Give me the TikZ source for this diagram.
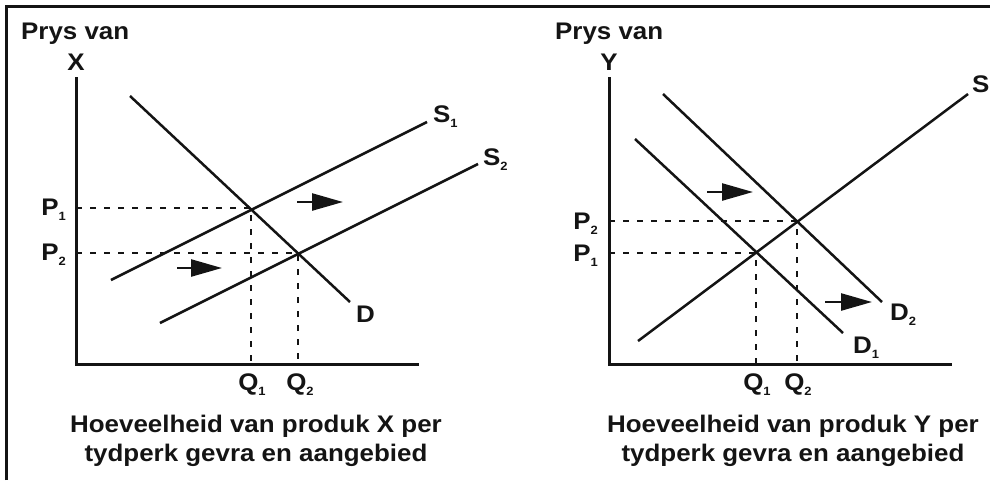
\documentclass[tikz,border=0pt]{standalone}
\usepackage{fontspec}
\setmainfont{Liberation Sans}[FakeStretch=1.08]
\usetikzlibrary{arrows.meta,positioning}
\definecolor{ink}{RGB}{20,20,20}
\tikzset{
  axis line/.style={line width=3pt,draw=ink},
  curve/.style={line width=2.5pt,draw=ink},
  guide/.style={line width=2.5pt,draw=ink,dash pattern=on 6pt off 8pt},
  shift arrow/.style={line width=2.5pt,draw=ink,-{Triangle[length=31pt,width=17pt]}},
  tag/.style={font=\fontsize{24}{29}\selectfont\bfseries,text=ink,inner sep=0pt},
}
\newcommand{\lowidx}[1]{\raisebox{-5pt}{\fontsize{12}{12}\selectfont #1}}

\begin{document}
\begin{tikzpicture}[x=1pt,y=-1pt]
  \useasboundingbox (0,0) rectangle (990,480);
  \draw[line width=2.8pt,draw=ink] (6.5,480) -- (6.5,6.5) -- (990,6.5);

  % market for X: supply shifts right
  \coordinate (xo) at (76,364);
  \coordinate (xtop) at (76,77);
  \coordinate (xend) at (419,364);
  \draw[axis line] (xtop) -- (xo) -- (xend);
  \node[tag,anchor=base west] (xprys) at (21,39) {Prys van};
  \node[tag,anchor=base] (xname) at (76,70) {X};
  \coordinate (xd-a) at (130,96);   \coordinate (xd-b) at (350,302);
  \coordinate (xs1-a) at (111,280); \coordinate (xs1-b) at (427,122);
  \coordinate (xs2-a) at (160,323); \coordinate (xs2-b) at (478,164);
  \draw[curve] (xd-a) -- (xd-b);
  \draw[curve] (xs1-a) -- (xs1-b);
  \draw[curve] (xs2-a) -- (xs2-b);
  \node[tag,anchor=base west] (xd) at (356,322) {D};
  \node[tag,anchor=base west] (xs1) at (433,122) {S\lowidx{1}};
  \node[tag,anchor=base west] (xs2) at (483,165) {S\lowidx{2}};
  \coordinate (xe1) at (251,208);
  \coordinate (xe2) at (298,253);
  \foreach \e in {xe1,xe2}
    \draw[guide] (xo |- \e) -- (\e) -- (\e |- xo);
  \node[tag,anchor=base east] (xp1) at (66,215) {P\lowidx{1}};
  \node[tag,anchor=base east] (xp2) at (66,260) {P\lowidx{2}};
  \node[tag,anchor=base] (xq1) at (252,390) {Q\lowidx{1}};
  \node[tag,anchor=base] (xq2) at (300,390) {Q\lowidx{2}};
  \coordinate (xa1) at (297,202); \coordinate (xb1) at (343,202);
  \coordinate (xa2) at (177,268); \coordinate (xb2) at (222,268);
  \draw[shift arrow] (xa1) -- (xb1);
  \draw[shift arrow] (xa2) -- (xb2);
  \node[tag,anchor=base] (xcap1) at (256,432) {Hoeveelheid van produk X per};
  \node[tag,anchor=base] (xcap2) at (256,461) {tydperk gevra en aangebied};

  % market for Y: demand shifts right
  \coordinate (yo) at (609,364);
  \coordinate (ytop) at (609,77);
  \coordinate (yend) at (952,364);
  \draw[axis line] (ytop) -- (yo) -- (yend);
  \node[tag,anchor=base west] (yprys) at (555,39) {Prys van};
  \node[tag,anchor=base] (yname) at (609,70) {Y};
  \coordinate (ys-a) at (638,341);  \coordinate (ys-b) at (968,94);
  \coordinate (yd1-a) at (635,139); \coordinate (yd1-b) at (843,333);
  \coordinate (yd2-a) at (663,94);  \coordinate (yd2-b) at (882,302);
  \draw[curve] (ys-a) -- (ys-b);
  \draw[curve] (yd1-a) -- (yd1-b);
  \draw[curve] (yd2-a) -- (yd2-b);
  \node[tag,anchor=base west] (ys) at (972,92) {S};
  \node[tag,anchor=base west] (yd1) at (853,353) {D\lowidx{1}};
  \node[tag,anchor=base west] (yd2) at (890,320) {D\lowidx{2}};
  \coordinate (ye1) at (756,253);
  \coordinate (ye2) at (797,221);
  \foreach \e in {ye1,ye2}
    \draw[guide] (yo |- \e) -- (\e) -- (\e |- yo);
  \node[tag,anchor=base east] (yp2) at (598,229) {P\lowidx{2}};
  \node[tag,anchor=base east] (yp1) at (598,261) {P\lowidx{1}};
  \node[tag,anchor=base] (yq1) at (757,390) {Q\lowidx{1}};
  \node[tag,anchor=base] (yq2) at (798,390) {Q\lowidx{2}};
  \coordinate (ya1) at (707,192); \coordinate (yb1) at (753,192);
  \coordinate (ya2) at (825,302); \coordinate (yb2) at (872,302);
  \draw[shift arrow] (ya1) -- (yb1);
  \draw[shift arrow] (ya2) -- (yb2);
  \node[tag,anchor=base] (ycap1) at (793,432) {Hoeveelheid van produk Y per};
  \node[tag,anchor=base] (ycap2) at (793,461) {tydperk gevra en aangebied};
\end{tikzpicture}
\end{document}
